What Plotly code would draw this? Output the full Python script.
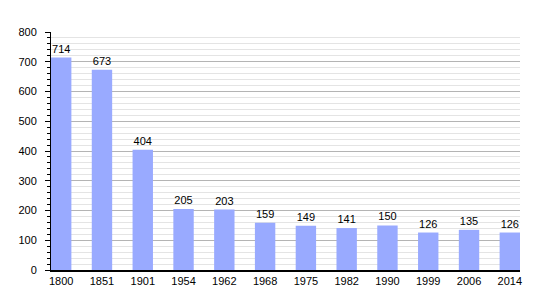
import plotly.graph_objects as go

years = ["1800", "1851", "1901", "1954", "1962", "1968", "1975", "1982", "1990", "1999", "2006", "2014"]
population = [714, 673, 404, 205, 203, 159, 149, 141, 150, 126, 135, 126]

fig = go.Figure(go.Bar(
    x=years, y=population,
    marker=dict(color="#99aaff", line=dict(width=0)),
    width=0.5,
    text=[str(v) for v in population],
    textposition="outside",
    textfont=dict(size=11, color="black", family="Liberation Sans, Arial, sans-serif"),
    cliponaxis=False,
))

fig.update_layout(
    width=550, height=300,
    margin=dict(l=51, r=30, t=32, b=30),
    paper_bgcolor="white", plot_bgcolor="white",
    font=dict(family="Liberation Sans, Arial, sans-serif", size=11, color="black"),
    showlegend=False,
    bargap=0.5,
)
fig.update_xaxes(
    type="category", range=[-0.25, 11.25],
    showline=True, linecolor="black", linewidth=1.5,
    ticks="", showgrid=False, tickfont=dict(size=11),
)
fig.update_yaxes(
    range=[0, 800], dtick=100, tick0=0,
    showline=True, linecolor="black", linewidth=1,
    ticks="outside", ticklen=5, tickcolor="black",
    showgrid=True, gridcolor="#b4b4b4", gridwidth=1,
    zeroline=False, tickfont=dict(size=11), ticklabelstandoff=6,
    minor=dict(dtick=20, showgrid=True, gridcolor="#e4e4e4", gridwidth=1,
               ticks="outside", ticklen=3, tickcolor="black"),
)

fig.write_html("out.html")
